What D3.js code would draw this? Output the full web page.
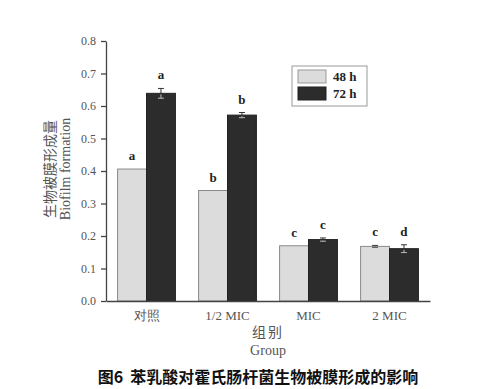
<!DOCTYPE html>
<html>
<head>
<meta charset="utf-8">
<script src="https://cdn.jsdelivr.net/npm/d3@7"></script>
<style>
  body { margin: 0; background: #fff; }
  svg { display: block; }
  .axis path, .axis line { stroke: #444; stroke-width: 1.3; }
  .axis text { fill: #555; font-family: "Liberation Serif", serif; font-size: 12px; }
</style>
</head>
<body>
<div id="chart"></div>
<script>
const groups = ['对照', '1/2 MIC', 'MIC', '2 MIC'];
const series = ['48 h', '72 h'];
const values48 = [0.406, 0.340, 0.170, 0.168];
const values72 = [0.639, 0.572, 0.189, 0.161];
const err48 = [0.0, 0.0, 0.0, 0.003];
const err72 = [0.015, 0.008, 0.005, 0.012];
const letters48 = ['a', 'b', 'c', 'c'];
const letters72 = ['a', 'b', 'c', 'd'];
const yTicks = [0, 0.1, 0.2, 0.3, 0.4, 0.5, 0.6, 0.7, 0.8];
const colors = ['#dcdcdc', '#2c2c2c'];

const width = 487, height = 389;
const margin = { top: 41, right: 57, bottom: 88, left: 106 };
const w = width - margin.left - margin.right;
const h = height - margin.top - margin.bottom;

const svg = d3.select('#chart').append('svg')
  .attr('width', width)
  .attr('height', height);

const g = svg.append('g')
  .attr('transform', 'translate(' + margin.left + ',' + margin.top + ')');

const x = d3.scaleBand().domain(groups).range([0, w]).paddingInner(0.286).paddingOuter(0.143);
const xs = d3.scaleBand().domain(series).range([0, x.bandwidth()]);
const y = d3.scaleLinear().domain([0, 0.8]).range([h, 0]);

const rows = [];
groups.forEach((grp, i) => {
  rows.push({ group: grp, s: series[0], v: values48[i], e: err48[i], l: letters48[i], c: 0 });
  rows.push({ group: grp, s: series[1], v: values72[i], e: err72[i], l: letters72[i], c: 1 });
});

const cx = d => x(d.group) + xs(d.s) + xs.bandwidth() / 2;

// error bars drawn first so the bar covers the lower half
const eb = g.append('g').selectAll('g').data(rows.filter(d => d.e > 0)).enter().append('g')
  .attr('stroke', '#333').attr('stroke-width', 1);
eb.append('line')
  .attr('x1', cx).attr('x2', cx)
  .attr('y1', d => y(d.v - d.e))
  .attr('y2', d => y(d.v + d.e));
eb.append('line')
  .attr('x1', d => cx(d) - 3).attr('x2', d => cx(d) + 3)
  .attr('y1', d => y(d.v + d.e))
  .attr('y2', d => y(d.v + d.e));

g.append('g').selectAll('rect').data(rows).enter().append('rect')
  .attr('x', d => x(d.group) + xs(d.s))
  .attr('y', d => y(d.v))
  .attr('width', xs.bandwidth())
  .attr('height', d => h - y(d.v))
  .attr('fill', d => colors[d.c])
  .attr('stroke', d => d.c === 0 ? '#8a8a8a' : '#222')
  .attr('stroke-width', 1);

// lower half of error bars, on top of the bar
const eb2 = g.append('g').selectAll('g').data(rows.filter(d => d.e > 0)).enter().append('g')
  .attr('stroke', d => d.c === 0 ? '#555' : '#bbb').attr('stroke-width', 1);
eb2.append('line')
  .attr('x1', cx).attr('x2', cx)
  .attr('y1', d => y(d.v) + 1)
  .attr('y2', d => y(d.v - d.e));
eb2.append('line')
  .attr('x1', d => cx(d) - 3).attr('x2', d => cx(d) + 3)
  .attr('y1', d => y(d.v - d.e))
  .attr('y2', d => y(d.v - d.e));

// significance letters
g.append('g').selectAll('text').data(rows).enter().append('text')
  .attr('x', cx)
  .attr('y', d => y(d.v + d.e) - 9)
  .attr('text-anchor', 'middle')
  .style('font-family', '"Liberation Serif", serif')
  .style('font-weight', 'bold')
  .style('font-size', '13px')
  .style('fill', '#222')
  .text(d => d.l);

g.append('g')
  .attr('class', 'axis')
  .call(d3.axisLeft(y).tickValues(yTicks).tickFormat(d3.format('.1f')).tickSizeInner(5).tickSizeOuter(0))
  .selectAll('text').attr('dx', '-2');

g.append('g')
  .attr('class', 'axis')
  .attr('transform', 'translate(0,' + h + ')')
  .call(d3.axisBottom(x).tickSize(0).tickSizeOuter(0))
  .selectAll('text')
  .attr('dy', '1.25em')
  .style('font-size', '13px');

// y axis title
const yt = svg.append('text')
  .attr('transform', 'translate(55,169) rotate(-90)')
  .attr('text-anchor', 'middle')
  .style('fill', '#555')
  .style('font-size', '14px');
yt.append('tspan').attr('x', 0).attr('dy', 0)
  .style('font-family', '"Noto Sans CJK SC", serif').text('生物被膜形成量');
yt.append('tspan').attr('x', 0).attr('dy', 15)
  .style('font-family', '"Liberation Serif", serif').text('Biofilm  formation');

// x axis title
svg.append('text')
  .attr('x', margin.left + w / 2).attr('y', 337)
  .attr('text-anchor', 'middle')
  .style('fill', '#555').style('font-size', '14px')
  .style('font-family', '"Noto Sans CJK SC", serif')
  .style('letter-spacing', '2px')
  .text('组别');
svg.append('text')
  .attr('x', margin.left + w / 2).attr('y', 355)
  .attr('text-anchor', 'middle')
  .style('fill', '#555').style('font-size', '14px')
  .style('font-family', '"Liberation Serif", serif')
  .text('Group');

// caption
svg.append('text')
  .attr('x', 258).attr('y', 383)
  .attr('text-anchor', 'middle')
  .style('fill', '#111').style('font-size', '16px').style('font-weight', 'bold')
  .style('font-family', '"Noto Sans CJK SC", sans-serif')
  .style('white-space', 'pre')
  .text('图6  苯乳酸对霍氏肠杆菌生物被膜形成的影响');

// legend
const lg = svg.append('g').attr('transform', 'translate(292,66)');
lg.append('rect').attr('width', 75).attr('height', 40)
  .attr('fill', '#fff').attr('stroke', '#999').attr('stroke-width', 1);
series.forEach((s, i) => {
  lg.append('rect')
    .attr('x', 6).attr('y', 4 + i * 17)
    .attr('width', 28).attr('height', 13)
    .attr('fill', colors[i]).attr('stroke', i === 0 ? '#999' : '#222');
  lg.append('text')
    .attr('x', 41).attr('y', 15 + i * 17)
    .style('font-family', '"Liberation Serif", serif')
    .style('font-weight', 'bold').style('font-size', '13px').style('fill', '#222')
    .text(s);
});
</script>
</body>
</html>
